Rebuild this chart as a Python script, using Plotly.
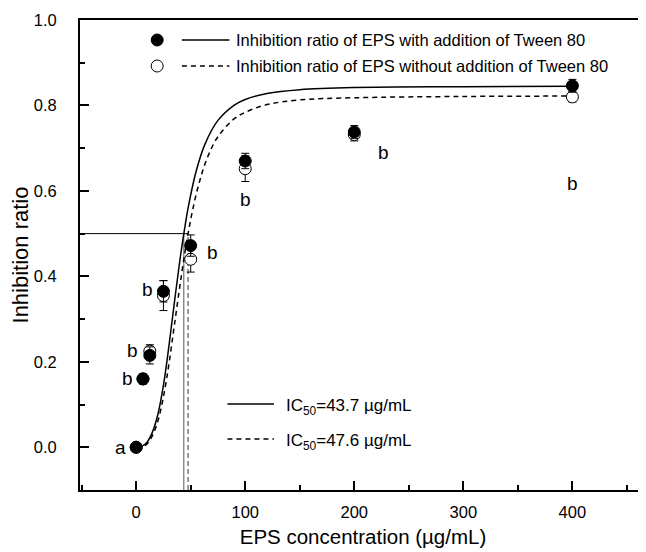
import plotly.graph_objects as go

# Measured points
conc = [0, 6.25, 12.5, 25, 50, 100, 200, 400]
with_tween = [0.0, 0.16, 0.215, 0.365, 0.472, 0.670, 0.738, 0.846]
with_tween_err = [0.004, 0.012, 0.02, 0.025, 0.025, 0.018, 0.015, 0.015]
without_tween = [0.0, 0.16, 0.225, 0.355, 0.44, 0.652, 0.732, 0.82]
without_tween_err = [0.004, 0.01, 0.015, 0.035, 0.03, 0.03, 0.015, 0.012]
letters = ["a", "b", "b", "b", "b", "b", "b", "b"]

# Fitted curves
fit_x_with = [0, 5, 10, 15, 20, 25, 30, 35, 40, 43.7, 48, 55, 63, 75, 90, 100, 120, 150, 200, 300, 400]
fit_y_with = [0.0, 0.002, 0.012, 0.036, 0.078, 0.145, 0.236, 0.338, 0.436, 0.5, 0.565,
              0.646, 0.709, 0.765, 0.801, 0.814, 0.828, 0.837, 0.842, 0.844, 0.845]
fit_x_without = [0, 5, 10, 15, 20, 25, 30, 35, 40, 44, 47.6, 52, 58, 65, 75, 90, 100, 120, 150, 200, 300, 400]
fit_y_without = [0.0, 0.001, 0.008, 0.028, 0.062, 0.118, 0.194, 0.285, 0.376, 0.445, 0.5, 0.558,
                 0.621, 0.676, 0.727, 0.769, 0.784, 0.802, 0.813, 0.818, 0.821, 0.822]

ic50_with = 43.7
ic50_without = 47.6

X_RANGE = [-51.5, 467.5]
Y_RANGE = [-0.1, 1.0]
FONT = "Liberation Sans, Arial, sans-serif"

fig = go.Figure()

# IC50 guide lines
fig.add_trace(go.Scatter(x=[X_RANGE[0], ic50_without], y=[0.5, 0.5], mode="lines",
                         line=dict(color="black", width=1), showlegend=False, hoverinfo="skip"))
fig.add_trace(go.Scatter(x=[ic50_with, ic50_with], y=[Y_RANGE[0], 0.5], mode="lines",
                         line=dict(color="#555555", width=1), showlegend=False, hoverinfo="skip"))
fig.add_trace(go.Scatter(x=[ic50_without, ic50_without], y=[Y_RANGE[0], 0.5], mode="lines",
                         line=dict(color="#555555", width=1.2, dash="5px,3px"), showlegend=False, hoverinfo="skip"))

# Fitted curves
fig.add_trace(go.Scatter(x=fit_x_with, y=fit_y_with, mode="lines", line_shape="spline",
                         line=dict(color="black", width=1.5), showlegend=False))
fig.add_trace(go.Scatter(x=fit_x_without, y=fit_y_without, mode="lines", line_shape="spline",
                         line=dict(color="black", width=1.5, dash="5px,4px"), showlegend=False))

# Data points (open first, filled on top)
fig.add_trace(go.Scatter(
    x=conc, y=without_tween, mode="markers",
    marker=dict(symbol="circle", size=12, color="white", line=dict(color="black", width=1)),
    error_y=dict(type="data", array=without_tween_err, color="black", thickness=1, width=4),
    showlegend=False))
fig.add_trace(go.Scatter(
    x=conc, y=with_tween, mode="markers",
    marker=dict(symbol="circle", size=12, color="black", line=dict(color="black", width=1)),
    error_y=dict(type="data", array=with_tween_err, color="black", thickness=1, width=4),
    showlegend=False))

# Significance letters
letter_pos = [(-14, 0.0), (-8, 0.16), (-3, 0.226), (10, 0.37), (70, 0.455),
              (100, 0.58), (227, 0.69), (400, 0.618)]
for (lx, ly), t in zip(letter_pos, letters):
    fig.add_annotation(x=lx, y=ly, text=t, showarrow=False, xref="x", yref="y",
                       font=dict(family=FONT, size=19, color="black"))


# page pixel -> paper coords (plot area spans x 74..646, y 20..490 on the page)
def px_x(p):
    return (p - 74) / 572


def px_y(p):
    return (490 - p) / 470


# Top legend drawn by hand
legend_rows = [
    ("Inhibition ratio of EPS with addition of Tween 80", "black", "solid", 40),
    ("Inhibition ratio of EPS without addition of Tween 80", "white", "5px,4px", 66),
]
for text, fill, dash, py in legend_rows:
    fig.add_shape(type="circle", xref="paper", yref="paper", xsizemode="pixel", ysizemode="pixel",
                  xanchor=px_x(152), yanchor=px_y(py), x0=-6, x1=6, y0=-6, y1=6,
                  fillcolor=fill, line=dict(color="black", width=1))
    fig.add_shape(type="line", xref="paper", yref="paper", x0=px_x(177), x1=px_x(225),
                  y0=px_y(py), y1=px_y(py), line=dict(color="black", width=1.5, dash=dash))
    fig.add_annotation(x=px_x(230), y=px_y(py), xref="paper", yref="paper", text=text,
                       showarrow=False, xanchor="left", yanchor="middle",
                       font=dict(family=FONT, size=16.5, color="black"))

# IC50 legend
ic_rows = [
    ("IC<sub>50</sub>=%.1f \u00b5g/mL" % ic50_with, "solid", 404),
    ("IC<sub>50</sub>=%.1f \u00b5g/mL" % ic50_without, "5px,4px", 439),
]
for text, dash, py in ic_rows:
    fig.add_shape(type="line", xref="paper", yref="paper", x0=px_x(223), x1=px_x(270),
                  y0=px_y(py), y1=px_y(py), line=dict(color="black", width=1.5, dash=dash))
    fig.add_annotation(x=px_x(280), y=px_y(py + 3), xref="paper", yref="paper", text=text,
                       showarrow=False, xanchor="left", yanchor="middle",
                       font=dict(family=FONT, size=17, color="black"))

# the page adds an 8px body margin, so the figure is 8px smaller than the window
fig.update_layout(
    width=638,
    height=544,
    margin=dict(l=66, r=0, t=12, b=62),
    paper_bgcolor="white",
    plot_bgcolor="white",
    font=dict(family=FONT, color="black"),
    showlegend=False,
)

fig.update_xaxes(
    range=X_RANGE,
    showgrid=False, zeroline=False,
    showline=True, linecolor="black", linewidth=2, mirror=True,
    ticks="inside", ticklen=9, tickwidth=1.5, tickcolor="black",
    tick0=0, dtick=100,
    minor=dict(ticks="inside", ticklen=5, tickwidth=1.5, tickcolor="black", tick0=0, dtick=50),
    tickfont=dict(family=FONT, size=16.5),
    ticklabelstandoff=6,
    title=dict(text="EPS concentration (\u00b5g/mL)", font=dict(family=FONT, size=20.5), standoff=10),
)

fig.update_yaxes(
    range=Y_RANGE,
    showgrid=False, zeroline=False,
    showline=True, linecolor="black", linewidth=2,
    ticks="inside", ticklen=9, tickwidth=1.5, tickcolor="black",
    tick0=0, dtick=0.2, tickformat=".1f",
    minor=dict(ticks="inside", ticklen=5, tickwidth=1.5, tickcolor="black", tick0=0, dtick=0.1),
    tickfont=dict(family=FONT, size=16.5),
    ticklabelstandoff=18,
    title=dict(text="Inhibition ratio", font=dict(family=FONT, size=22), standoff=10),
)

fig.write_html("out.html")
